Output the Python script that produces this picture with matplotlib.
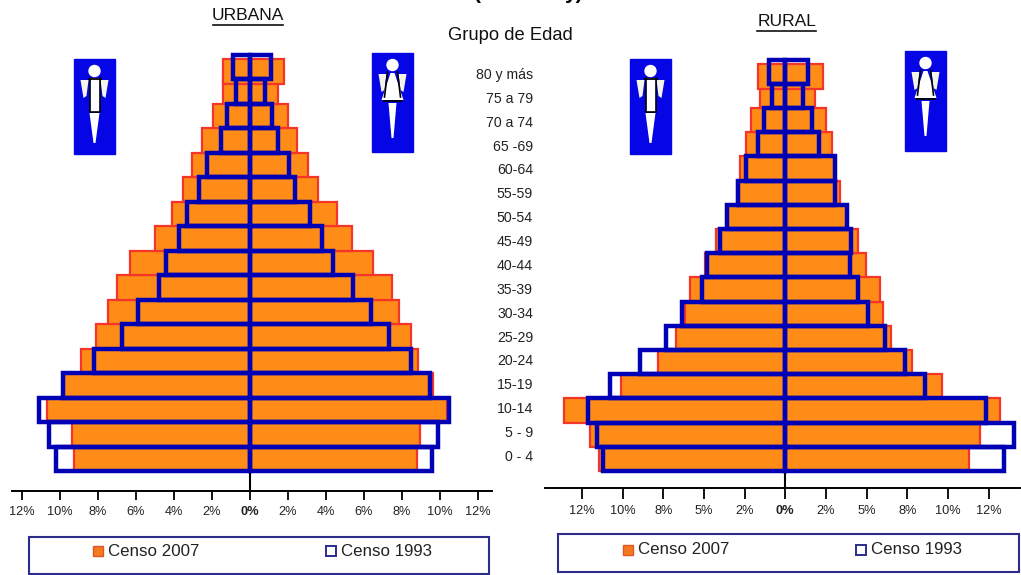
import matplotlib
matplotlib.use("Agg")
import matplotlib.pyplot as plt
from matplotlib.patches import Rectangle, Circle, Polygon

plt.rcParams["font.family"] = ["Liberation Sans", "DejaVu Sans"]

W, H = 1021, 575

# groups from the youngest (bottom) to the oldest (top)
age_labels = ["0 - 4", "5 - 9", "10-14", "15-19", "20-24", "25-29", "30-34", "35-39", "40-44",
              "45-49", "50-54", "55-59", "60-64", "65 -69", "70 a 74", "75 a 79", "80 y más"]

urb_left_2007 = [9.26, 9.39, 10.67, 9.8, 8.91, 8.1, 7.46, 6.98, 6.32, 5.02, 4.12, 3.54, 3.04, 2.53, 1.93, 1.44, 1.44]
urb_right_2007 = [8.77, 8.95, 10.35, 9.65, 8.86, 8.46, 7.86, 7.46, 6.46, 5.39, 4.56, 3.56, 3.07, 2.46, 1.98, 1.46, 1.79]
urb_left_1993 = [10.21, 10.56, 11.09, 9.86, 8.21, 6.75, 5.88, 4.77, 4.42, 3.72, 3.33, 2.67, 2.25, 1.53, 1.19, 0.74, 0.88]
urb_right_1993 = [9.6, 9.91, 10.47, 9.47, 8.46, 7.33, 6.37, 5.44, 4.39, 3.77, 3.16, 2.37, 2.07, 1.49, 1.14, 0.79, 1.09]

rur_left_2007 = [11.43, 12.0, 13.6, 10.12, 7.85, 6.74, 6.17, 5.86, 4.94, 4.26, 3.65, 2.95, 2.79, 2.42, 2.13, 1.56, 1.66]
rur_right_2007 = [11.31, 11.97, 13.2, 9.61, 7.81, 6.5, 5.98, 5.82, 4.96, 4.49, 3.77, 3.36, 3.05, 2.87, 2.5, 1.82, 2.3]
rur_left_1993 = [11.19, 11.56, 12.11, 10.78, 8.93, 7.36, 6.37, 5.14, 4.8, 4.02, 3.61, 2.89, 2.42, 1.66, 1.31, 0.84, 0.98]
rur_right_1993 = [13.46, 14.06, 12.34, 8.59, 7.36, 6.13, 5.06, 4.45, 3.98, 4.02, 3.81, 3.05, 3.05, 2.09, 1.62, 1.1, 1.37]

urb_ticks = [-12, -10, -8, -6, -4, -2, 0, 2, 4, 6, 8, 10, 12]
urb_ticklabels = ["12%", "10%", "8%", "6%", "4%", "2%", "0%", "2%", "4%", "6%", "8%", "10%", "12%"]
rur_ticks = [-12.5, -10, -7.5, -5, -2.5, 0, 2.5, 5, 7.5, 10, 12.5]
rur_ticklabels = ["12%", "10%", "8%", "5%", "2%", "0%", "2%", "5%", "8%", "10%", "12%"]

ORANGE = "#ff8c17"
RED = "#f5352a"
BLUE = "#0000b4"
NAVY = "#2c2c8c"
TEXT = "#222222"

fig = plt.figure(figsize=(W / 100, H / 100), dpi=100)


def pyramid(x0, x1, zero, px_per_pct, axis_y, row_h, tick_len, left07, right07, left93, right93, ticks, ticklabels):
    top, bars_bottom = 40, 471
    ax = fig.add_axes([x0 / W, 1 - axis_y / H, (x1 - x0) / W, (axis_y - top) / H])
    ax.patch.set_alpha(0)
    ax.set_xlim((x0 - zero) / px_per_pct, (x1 - zero) / px_per_pct)
    ymin = -0.5 - (axis_y - bars_bottom) / row_h
    ax.set_ylim(ymin, -0.5 + (bars_bottom - top) / row_h)

    rows = list(range(len(left07)))
    # oldest 2007 bar sits a little lower than its 1993 box
    rows07 = rows[:-1] + [rows[-1] - 0.2]
    for side, vals07, vals93 in ((-1, left07, left93), (1, right07, right93)):
        ax.barh(rows07, [side * v for v in vals07], height=1, color=ORANGE, edgecolor=RED, linewidth=1.6, zorder=2)
        ax.barh(rows, [side * v for v in vals93], height=1, fill=False, edgecolor=BLUE, linewidth=3.2, zorder=3)

    ax.vlines(0, ymin, -0.5, color="black", linewidth=1.5, zorder=1)
    for s in ("top", "left", "right"):
        ax.spines[s].set_visible(False)
    ax.spines["bottom"].set_linewidth(1.4)
    ax.set_yticks([])
    ax.set_xticks(ticks)
    ax.set_xticklabels(ticklabels, fontsize=9.2, color=TEXT)
    ax.tick_params(axis="x", length=tick_len * 0.72, width=1.3, pad=4)
    for lab, t in zip(ax.get_xticklabels(), ticks):
        if t == 0:
            lab.set_fontweight("bold")
    return ax


pyramid(12, 492, 250, 19.0, 491, 24.5, 9, urb_left_2007, urb_right_2007, urb_left_1993, urb_right_1993,
        urb_ticks, urb_ticklabels)
pyramid(545, 1020, 785.3, 16.27, 488, 24.2, 11, rur_left_2007, rur_right_2007, rur_left_1993, rur_right_1993,
        rur_ticks, rur_ticklabels)

# everything around the pyramids is placed in image pixels
ov = fig.add_axes([0, 0, 1, 1], zorder=5)
ov.set_xlim(0, W)
ov.set_ylim(H, 0)
ov.axis("off")
ov.patch.set_alpha(0)


def person(x, y, h, female):
    # blue card with the white pictogram
    ov.add_patch(Rectangle((x, y), 41, h, color="#0505e6", zorder=1))
    cx = x + 20.5
    ov.add_patch(Circle((cx, y + 12), 5.5, color="white", zorder=3))
    for s in (-1, 1):
        ov.add_patch(Polygon([(cx + s * 6, y + 21), (cx + s * 14, y + 21), (cx + s * 11, y + 39), (cx + s * 8, y + 37)],
                             facecolor="#f4f4ea", edgecolor="none", zorder=2))
        ov.plot([cx + s * 5, cx + s * (8 if female else 5)], [y + 19, y + 44 if female else y + 52],
                color="black", linewidth=1.2, zorder=4)
    if female:
        ov.add_patch(Polygon([(cx - 2, y + 20), (cx + 2, y + 20), (cx + 11, y + 47), (cx - 11, y + 47)],
                             facecolor="white", edgecolor="none", zorder=3))
        ov.plot([cx - 9, cx + 9], [y + 48, y + 48], color="black", linewidth=1.3, zorder=4)
        ov.add_patch(Polygon([(cx - 4, y + 50), (cx + 4, y + 50), (cx + 1, y + 85), (cx - 1, y + 85)],
                             facecolor="white", edgecolor="none", zorder=3))
    else:
        ov.add_patch(Rectangle((cx - 5, y + 19), 10, 34, facecolor="white", edgecolor="none", zorder=3))
        ov.plot([cx - 6, cx + 6], [y + 20, y + 20], color="black", linewidth=1.3, zorder=4)
        ov.plot([cx - 5, cx + 5], [y + 53, y + 53], color="black", linewidth=1.2, zorder=4)
        ov.add_patch(Polygon([(cx - 5, y + 54), (cx + 5, y + 54), (cx + 1, y + 84), (cx - 1, y + 84)],
                             facecolor="white", edgecolor="none", zorder=3))


person(74, 59, 95, False)
person(372, 53, 99, True)
person(630, 59, 95, False)
person(905, 51, 100, True)


def title(text, cx, y, x0, x1):
    ov.text(cx, y, text, ha="center", va="center", fontsize=12.5, color="#111111")
    ov.plot([x0, x1], [y + 9, y + 9], color="#111111", linewidth=1.2)


title("URBANA", 248, 16, 213, 283)
title("RURAL", 787, 22, 757, 816)

ov.text(510.5, 36, "Grupo de Edad", ha="center", va="center", fontsize=13.2, color="#111111")

# bottom edge of the page title, cut off by the top of the image in the source
ov.text(477, -1, "(", ha="center", va="baseline", fontsize=15, fontweight="bold", color="black")
ov.text(574, -1, "y)", ha="center", va="baseline", fontsize=15, fontweight="bold", color="black")

# labels drift slightly from the rows in the source, so they get their own spacing
for i, lab in enumerate(age_labels):
    ov.text(533, 457 - i * 23.88, lab, ha="right", va="center", fontsize=10.2, color=TEXT)


def legend_box(x0, y0, x1, y1, sw1, tx1, sw2, tx2, ymid):
    ov.add_patch(Rectangle((x0, y0), x1 - x0, y1 - y0, fill=False, edgecolor=NAVY, linewidth=1.5))
    ov.add_patch(Rectangle((sw1, ymid - 5), 10, 10, facecolor="#f47a20", edgecolor="#e0542a", linewidth=1))
    ov.text(tx1, ymid, "Censo 2007", ha="left", va="center", fontsize=12.2, color=TEXT)
    ov.add_patch(Rectangle((sw2, ymid - 5), 10, 10, facecolor="white", edgecolor=NAVY, linewidth=1.4))
    ov.text(tx2, ymid, "Censo 1993", ha="left", va="center", fontsize=12.2, color=TEXT)


legend_box(29, 537, 489, 574, 93, 108, 326, 341, 551)
legend_box(558, 534, 1019, 572, 623, 638, 856, 871, 550)

fig.savefig("out.png", dpi=100)
